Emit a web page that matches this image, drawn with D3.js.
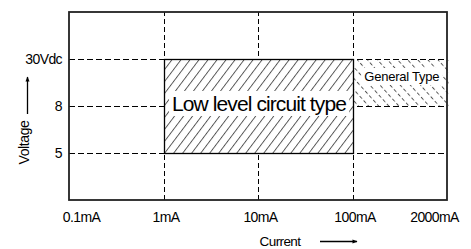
<!DOCTYPE html>
<html><head><meta charset="utf-8">
<script src="https://cdn.jsdelivr.net/npm/d3@7"></script>
<style>body{margin:0;background:#fff}svg{display:block;font-family:"Liberation Sans",Arial,sans-serif}</style>
</head><body>
<svg id="c" width="471" height="249"></svg>
<script>
const currents = ["0.1mA", "1mA", "10mA", "100mA", "2000mA"];
const voltageLevels = ["0", "5", "8", "30Vdc", "max"];
const voltageTicks = ["5", "8", "30Vdc"];
const currentGrid = ["1mA", "10mA", "100mA"];
const regions = [
  {name: "Low level circuit type", x0: "1mA", x1: "100mA", y0: "5", y1: "30Vdc"},
  {name: "General Type", x0: "100mA", x1: "2000mA", y0: "8", y1: "30Vdc"}
];

const svg = d3.select("#c");
const m = {l: 69, r: 24, t: 12, b: 49};
const W = 471, H = 249;
const x = d3.scalePoint().domain(currents).range([m.l, W - m.r]);
const y = d3.scalePoint().domain(voltageLevels).range([H - m.b, m.t]);
const px = v => Math.round(v) + 0.5;

const defs = svg.append("defs");
const p1 = defs.append("pattern").attr("id", "h1").attr("patternUnits", "userSpaceOnUse")
  .attr("width", 7.2).attr("height", 8).attr("patternTransform", "rotate(37)");
p1.append("line").attr("x1", 0.5).attr("y1", -1).attr("x2", 0.5).attr("y2", 9)
  .attr("stroke", "#2a2a2a").attr("stroke-width", 0.8);
const p2 = defs.append("pattern").attr("id", "h2").attr("patternUnits", "userSpaceOnUse")
  .attr("width", 7.5).attr("height", 6).attr("patternTransform", "rotate(-42)");
p2.append("line").attr("x1", 0.5).attr("y1", 0).attr("x2", 0.5).attr("y2", 6)
  .attr("stroke", "#333").attr("stroke-width", 0.85).attr("stroke-dasharray", "3.5,2.5");
defs.append("marker").attr("id", "ar").attr("viewBox", "0 0 10 10").attr("refX", 9).attr("refY", 5)
  .attr("markerWidth", 10).attr("markerHeight", 5).attr("markerUnits", "userSpaceOnUse").attr("orient", "auto")
  .append("path").attr("d", "M0,1 L10,5 L0,9 Z").attr("fill", "#000");

// gridlines
svg.append("g").selectAll("line").data(voltageTicks).join("line")
  .attr("x1", x.range()[0]).attr("x2", x.range()[1])
  .attr("y1", d => px(y(d))).attr("y2", d => px(y(d)))
  .attr("stroke", "#000").attr("stroke-width", 1).attr("stroke-dasharray", "6,3");
svg.append("g").selectAll("line").data(currentGrid).join("line")
  .attr("x1", d => px(x(d))).attr("x2", d => px(x(d)))
  .attr("y1", y.range()[0]).attr("y2", y.range()[1])
  .attr("stroke", "#000").attr("stroke-width", 1).attr("stroke-dasharray", "5,3");

// general type region
const g = regions[1];
svg.append("rect").attr("x", px(x(g.x0)) + 0.5).attr("y", px(y(g.y1)) + 0.5)
  .attr("width", x(g.x1) - x(g.x0)).attr("height", y(g.y0) - y(g.y1) - 1)
  .attr("fill", "url(#h2)");
// low level region
const r = regions[0];
svg.append("rect").attr("x", px(x(r.x0))).attr("y", px(y(r.y1)))
  .attr("width", Math.round(x(r.x1) - x(r.x0))).attr("height", Math.round(y(r.y0) - y(r.y1)))
  .attr("fill", "#fff");
svg.append("rect").attr("x", px(x(r.x0))).attr("y", px(y(r.y1)))
  .attr("width", Math.round(x(r.x1) - x(r.x0))).attr("height", Math.round(y(r.y0) - y(r.y1)))
  .attr("fill", "url(#h1)").attr("stroke", "#000").attr("stroke-width", 1.3);

// region labels with white background
function label(txt, cx, by, size, ls, pad) {
  const t = svg.append("text").attr("x", cx).attr("y", by).attr("text-anchor", "middle")
    .attr("font-size", size).attr("letter-spacing", ls).attr("fill", "#000").text(txt);
  const b = t.node().getBBox();
  svg.insert("rect", () => t.node()).attr("x", b.x - pad[0]).attr("y", b.y - pad[1])
    .attr("width", b.width + 2 * pad[0]).attr("height", b.height + 2 * pad[1]).attr("fill", "#fff");
}
label(r.name, (x(r.x0) + x(r.x1)) / 2 + 1, y("8") + 5, 21, -0.9, [3, 1]);
label(g.name, (x(g.x0) + x(g.x1)) / 2 + 2, y("30Vdc") + 22, 13, -0.25, [3, 1]);

// frame
svg.append("rect").attr("x", m.l).attr("y", m.t).attr("width", W - m.r - m.l).attr("height", H - m.b - m.t)
  .attr("fill", "none").attr("stroke", "#222").attr("stroke-width", 1.8);

// axis labels
const xAxis = d3.axisBottom(x).tickSize(0).tickPadding(0);
const xa = svg.append("g").attr("transform", `translate(0,${H - m.b})`).call(xAxis);
xa.select(".domain").remove();
xa.selectAll("text").attr("font-size", 14).attr("letter-spacing", -0.6).attr("font-family", "Liberation Sans, Arial, sans-serif")
  .attr("fill", "#000").attr("dy", null).attr("y", 22)
  .attr("dx", (d, i) => i === 0 ? 12 : (i === currents.length - 1 ? -13 : 2));

const yAxis = d3.axisLeft(y).tickValues(voltageTicks).tickSize(0).tickPadding(7);
const ya = svg.append("g").attr("transform", `translate(${m.l},0)`).call(yAxis);
ya.select(".domain").remove();
ya.selectAll("text").attr("font-size", 14).attr("letter-spacing", -0.6).attr("font-family", "Liberation Sans, Arial, sans-serif").attr("fill", "#000");

// titles and arrows
svg.append("text").attr("x", 280).attr("y", 246).attr("text-anchor", "middle").attr("font-size", 13.5)
  .attr("letter-spacing", -0.6).text("Current");
svg.append("line").attr("x1", 320).attr("x2", 357).attr("y1", 241.5).attr("y2", 241.5)
  .attr("stroke", "#000").attr("stroke-width", 1.3).attr("marker-end", "url(#ar)");
svg.append("text").attr("transform", "translate(29,142.5) rotate(-90)").attr("text-anchor", "middle")
  .attr("font-size", 14).attr("letter-spacing", -0.4).text("Voltage");
svg.append("line").attr("x1", 27.5).attr("x2", 27.5).attr("y1", 114).attr("y2", 77)
  .attr("stroke", "#000").attr("stroke-width", 1.3).attr("marker-end", "url(#ar)");
</script>
</body></html>
